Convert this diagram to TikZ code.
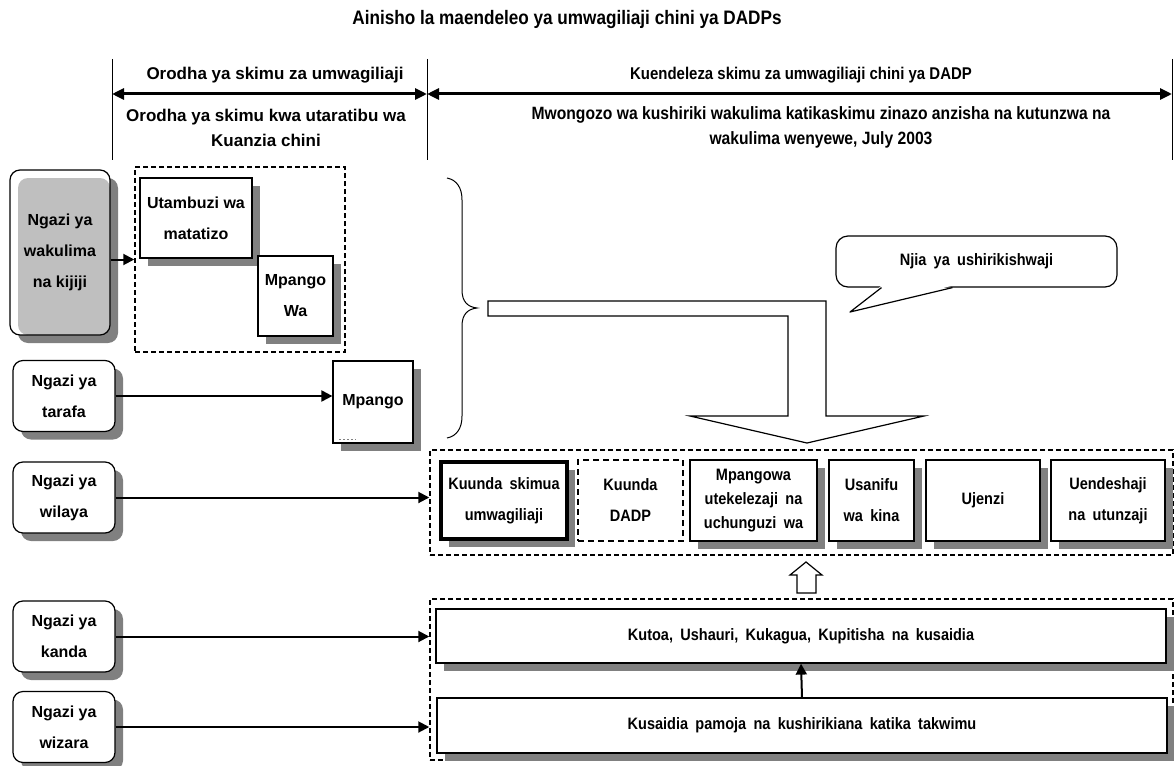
\documentclass[tikz,border=0pt]{standalone}
\usepackage{fontspec}
\setmainfont{Liberation Sans}
\newfontfamily\narrowfont{Liberation Sans}[FakeStretch=0.88]
\newfontfamily\boxfont{Liberation Sans}[FakeStretch=0.8801, WordSpace=1.8]
\usetikzlibrary{arrows.meta,shadows}
\definecolor{shadowgray}{gray}{0.5}
\definecolor{fillgray}{gray}{0.75}

\begin{document}
\begin{tikzpicture}%
        [x=1pt, y=-1pt,
        shadowed/.style={drop shadow={shadow xshift=8pt, shadow yshift=-8pt, fill=shadowgray, opacity=1}},
        tier/.style={draw, line width=1.2pt, rounded corners=10pt, fill=white, align=center, inner sep=0pt, minimum width=102pt, minimum height=71pt, shadowed, font=\fontsize{16}{31}\selectfont\bfseries},
        sheet/.style={draw, line width=1.2pt, fill=white, align=center, inner sep=0pt, shadowed, font=\fontsize{16}{31}\selectfont\bfseries},
        phase/.style={draw, line width=1.2pt, fill=white, align=center, inner sep=0pt, minimum height=81pt, font=\boxfont\bfseries\fontsize{16.5}{31}\selectfont},
        dashframe/.style={draw, line width=1.5pt, dash pattern=on 5pt off 3pt, inner sep=0pt},
        feed/.style={line width=2pt, -{Triangle[length=11pt,width=11pt]}},
        spanarrow/.style={line width=3pt, {Triangle[length=12pt,width=11pt]}-{Triangle[length=12pt,width=11pt]}},
        caption/.style={align=center, inner sep=0pt}]

    \useasboundingbox (0,0) rectangle (1174,765);
    %% Title
    \node[caption, font=\narrowfont\bfseries\fontsize{19.5}{20}\selectfont] (title) at (567,20) {Ainisho la maendeleo ya umwagiliaji chini ya DADPs};
    %% Scale on top
    \coordinate (p1) at (112,94);
    \coordinate (p2) at (427,94);
    \coordinate (p3) at (1172,94);
    \draw[line width=1pt] ([yshift=35pt]p1) -- ([yshift=-66pt]p1);
    \draw[line width=1pt] ([yshift=35pt]p2) -- ([yshift=-66pt]p2);
    \draw[line width=1pt] ([yshift=35pt]p3) -- ([yshift=-66pt]p3);
    \draw[spanarrow] (p1) -- (p2);
    \draw[spanarrow] (p2) -- (p3);
    \node[caption, font=\fontsize{17}{25}\selectfont\bfseries] (orodha) at (275,75) {Orodha ya skimu za umwagiliaji};
    \node[caption, font=\fontsize{17}{25}\selectfont\bfseries] (orodhaChini) at (266,127.5) {Orodha ya skimu kwa utaratibu wa\\Kuanzia chini};
    \node[caption, font=\narrowfont\bfseries\fontsize{17}{25}\selectfont] (kuendeleza) at (801,75) {Kuendeleza skimu za umwagiliaji chini ya DADP};
    \node[caption, font=\narrowfont\bfseries\fontsize{17.8}{25}\selectfont] (mwongozo) at (821,127.5) {Mwongozo wa kushiriki wakulima katikaskimu zinazo anzisha na kutunzwa na\\wakulima wenyewe, July 2003};
    %%
    %% Levels
    %%
    \node[tier, minimum width=100pt, minimum height=165pt,
          path picture={\fill[fillgray, rounded corners=10pt] ([xshift=8pt,yshift=-8pt]path picture bounding box.north west) rectangle (path picture bounding box.south east);}]
          (wakulima) at (60,252.5) {Ngazi ya\\wakulima\\na kijiji};
    \node[tier] (tarafa) at (64,396) {Ngazi ya\\tarafa};
    \node[tier] (wilaya) at (64,497.5) {Ngazi ya\\wilaya};
    \node[tier] (kanda) at (64,636.5) {Ngazi ya\\kanda};
    \node[tier] (wizara) at (64,727) {Ngazi ya\\wizara};
    %%
    %% Orodha
    %%
    \node[dashframe, minimum width=210pt, minimum height=185pt] (orodhaBox) at (240,259.5) {};
    \node[sheet, minimum width=112pt, minimum height=80pt] (utambuzi) at (196,218) {Utambuzi wa\\matatizo};
    \node[sheet, minimum width=75pt, minimum height=80pt] (mpangoWa) at (295.5,296) {Mpango\\Wa};
    \node[sheet, minimum width=80pt, minimum height=82pt] (mpango) at (373,402) {Mpango};
    \draw[shadowgray, line width=0.6pt, dash pattern=on 2pt off 2pt] ([xshift=7pt,yshift=4pt]mpango.south west) -- ++(17,0);
    %%
    %% Njia ya ushirikishwaji
    %%
    \draw[line width=1pt] (447,178) .. controls (457,180) and (462,188) .. (462,200)
        -- (462,290) .. controls (462,302) and (468,307) .. (477,308)
        .. controls (468,309) and (462,314) .. (462,326)
        -- (462,416) .. controls (462,428) and (457,436) .. (447,438);
    \draw[line width=1.2pt] (488,301) -- (826,301) -- (826,416) -- (924,416) -- (807,443)
        -- (690,416) -- (788,416) -- (788,316) -- (488,316) -- cycle;
    \node[draw, line width=1.2pt, rounded corners=12pt, fill=white, minimum width=281pt, minimum height=51pt,
          font=\boxfont\bfseries\fontsize{16.5}{20}\selectfont] (njia) at (976.5,261.5) {Njia ya ushirikishwaji};
    \coordinate (tip) at (850,312);
    \fill[white] ([xshift=-95pt,yshift=2pt]njia.south) -- (tip) -- ([xshift=-24pt,yshift=2pt]njia.south) -- cycle;
    \draw[line width=1.2pt, line join=round] ([xshift=-95pt]njia.south) -- (tip) -- ([xshift=-24pt]njia.south);
    %%
    %% DADP stages
    %%
    \node[dashframe, minimum width=743pt, minimum height=105pt] (dadpBox) at (801.5,502.5) {};
    \node[phase, shadowed, line width=4pt, minimum width=126pt, minimum height=77pt] (kuundaSkimu) at (504,500.5) {Kuunda skimua\\umwagiliaji};
    \node[phase, dash pattern=on 6pt off 4pt, minimum width=105pt] (kuundaDadp) at (630.5,500.5) {Kuunda\\DADP};
    \node[phase, shadowed, minimum width=127pt, font=\boxfont\bfseries\fontsize{16.5}{24}\selectfont] (mpangowa) at (753.5,500.5) {Mpangowa\\utekelezaji na\\uchunguzi wa};
    \node[phase, shadowed, minimum width=85pt] (usanifu) at (871.5,500.5) {Usanifu\\wa kina};
    \node[phase, shadowed, minimum width=114pt] (ujenzi) at (983,500.5) {Ujenzi};
    \node[phase, shadowed, minimum width=114pt] (uendeshaji) at (1108,500.5) {Uendeshaji\\na utunzaji};
    \draw[line width=1.2pt, fill=white] (797,593) -- (797,575) -- (790,575) -- (806,562)
        -- (822,575) -- (816,575) -- (816,593) -- cycle;
    %%
    %% Support
    %%
    \node[dashframe, minimum width=743pt, minimum height=161pt] (msaadaBox) at (801.5,679.5) {};
    \node[phase, shadowed, minimum width=730pt, minimum height=54pt] (kutoa) at (801,636) {Kutoa, Ushauri, Kukagua, Kupitisha na kusaidia};
    \node[phase, shadowed, minimum width=730pt, minimum height=55pt] (kusaidia) at (802,725.5) {Kusaidia pamoja na kushirikiana katika takwimu};
    %%
    %% Links
    %%
    \draw[feed] (wakulima.east |- orodhaBox.west) -- (orodhaBox.west);
    \draw[feed] (tarafa.east) -- (tarafa.east -| mpango.west);
    \draw[feed] (wilaya.east) -- (wilaya.east -| dadpBox.west);
    \draw[feed] (kanda.east) -- (kanda.east -| msaadaBox.west);
    \draw[feed] (wizara.east) -- (wizara.east -| msaadaBox.west);
    \draw[feed] (kusaidia.north) -- (kutoa.south);
\end{tikzpicture}
\end{document}
